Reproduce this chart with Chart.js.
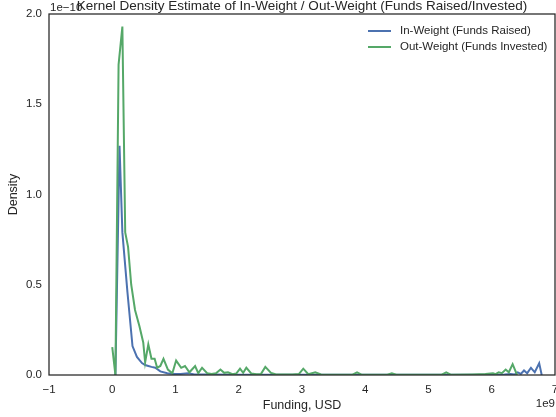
<!DOCTYPE html>
<html>
<head>
<meta charset="utf-8">
<script src="https://cdn.jsdelivr.net/npm/chart.js@4.4.0/dist/chart.umd.min.js"></script>
<style>
	html, body { margin: 0; padding: 0; background: #fff; overflow: hidden; }
	#wrap { width: 580px; height: 417px; }
</style>
</head>
<body>
<div id="wrap"><canvas id="kdeChart"></canvas></div>
<script>
// values in units of 1e9 USD (x) and 1e-10 density (y)
const chartTitle = "Kernel Density Estimate of In-Weight / Out-Weight (Funds Raised/Invested)";
const seriesLabels = ["In-Weight (Funds Raised)", "Out-Weight (Funds Invested)"];
const xTicks = [-1, 0, 1, 2, 3, 4, 5, 6, 7];
const yTicks = [0, 0.5, 1, 1.5, 2];

const inWeightX = [0.05, 0.115, 0.16, 0.24, 0.32, 0.39, 0.47, 0.52, 0.57, 0.62, 0.68, 0.76, 0.87, 0.99, 1.08, 1.20, 1.30, 1.50, 2.00, 2.50, 3.00, 3.50, 4.00, 4.50, 5.00, 5.50, 6.00, 6.20, 6.30, 6.36, 6.41, 6.46, 6.51, 6.56, 6.62, 6.68, 6.75, 6.79];
const inWeightY = [0.0, 1.27, 0.79, 0.46, 0.16, 0.10, 0.066, 0.055, 0.05, 0.045, 0.04, 0.02, 0.01, 0.005, 0.006, 0.01, 0.003, 0.003, 0.002, 0.002, 0.002, 0.002, 0.002, 0.002, 0.002, 0.002, 0.002, 0.003, 0.005, 0.003, 0.015, 0.006, 0.025, 0.01, 0.04, 0.015, 0.065, 0.0];

const outWeightX = [0.00, 0.05, 0.10, 0.16, 0.205, 0.25, 0.30, 0.36, 0.43, 0.49, 0.52, 0.57, 0.62, 0.67, 0.71, 0.76, 0.81, 0.88, 0.95, 1.01, 1.09, 1.15, 1.22, 1.31, 1.36, 1.42, 1.50, 1.57, 1.64, 1.71, 1.77, 1.83, 1.90, 1.96, 2.02, 2.07, 2.12, 2.20, 2.28, 2.35, 2.42, 2.51, 2.58, 2.70, 2.85, 2.95, 3.02, 3.10, 3.21, 3.30, 3.50, 3.80, 3.87, 3.94, 4.20, 4.35, 4.42, 4.49, 4.80, 5.21, 5.28, 5.35, 5.70, 5.90, 6.02, 6.06, 6.11, 6.16, 6.22, 6.27, 6.33, 6.40];
const outWeightY = [0.155, 0.0, 1.72, 1.93, 0.79, 0.71, 0.50, 0.36, 0.27, 0.18, 0.07, 0.17, 0.09, 0.09, 0.04, 0.05, 0.09, 0.03, 0.01, 0.08, 0.04, 0.05, 0.015, 0.05, 0.01, 0.04, 0.01, 0.005, 0.01, 0.03, 0.012, 0.015, 0.004, 0.008, 0.035, 0.012, 0.04, 0.008, 0.004, 0.005, 0.045, 0.012, 0.004, 0.003, 0.003, 0.005, 0.035, 0.004, 0.015, 0.003, 0.002, 0.002, 0.015, 0.002, 0.002, 0.002, 0.01, 0.002, 0.002, 0.002, 0.015, 0.002, 0.003, 0.005, 0.01, 0.005, 0.015, 0.01, 0.03, 0.015, 0.06, 0.0];

const ink = "#262626";
const fontFamily = '"Liberation Sans", Arial, sans-serif';
const lineColors = ["#4c72b0", "#55a868"];

function toPoints(xs, ys) {
	return xs.map((x, i) => ({ x: x, y: ys[i] }));
}

// frame, offset texts, title and the in-axes legend
const decorPlugin = {
	id: "decor",
	afterDraw(chart) {
		const ctx = chart.ctx;
		const a = chart.chartArea;
		ctx.save();
		ctx.strokeStyle = ink;
		ctx.lineWidth = 1.25;
		ctx.strokeRect(a.left, a.top, a.right - a.left, a.bottom - a.top);

		ctx.fillStyle = ink;
		ctx.textBaseline = "middle";
		ctx.font = "11.5px " + fontFamily;
		ctx.textAlign = "left";
		ctx.fillText("1e\u221210", a.left + 1, 8);
		ctx.textAlign = "right";
		ctx.fillText("1e9", a.right, 404);

		ctx.font = "13.5px " + fontFamily;
		ctx.textAlign = "center";
		ctx.fillText(chartTitle, (a.left + a.right) / 2, 6);

		ctx.font = "11.5px " + fontFamily;
		ctx.textAlign = "left";
		chart.data.datasets.forEach((ds, i) => {
			const y = a.top + 17 + i * 16;
			ctx.strokeStyle = ds.borderColor;
			ctx.lineWidth = 2;
			ctx.beginPath();
			ctx.moveTo(a.right - 187, y);
			ctx.lineTo(a.right - 164, y);
			ctx.stroke();
			ctx.fillStyle = ink;
			ctx.fillText(ds.label, a.right - 155, y);
		});
		ctx.restore();
	}
};

const ctx = document.getElementById("kdeChart").getContext("2d");
new Chart(ctx, {
	type: "line",
	data: {
		datasets: [
			{
				label: seriesLabels[0],
				data: toPoints(inWeightX, inWeightY),
				borderColor: lineColors[0],
				borderWidth: 2,
				pointRadius: 0,
				tension: 0,
				fill: false,
				order: 1
			},
			{
				label: seriesLabels[1],
				data: toPoints(outWeightX, outWeightY),
				borderColor: lineColors[1],
				borderWidth: 2,
				pointRadius: 0,
				tension: 0,
				fill: false,
				order: 0
			}
		]
	},
	options: {
		responsive: true,
		maintainAspectRatio: false,
		animation: false,
		layout: { padding: { top: 14, right: 25, left: 0, bottom: 0 } },
		plugins: {
			legend: { display: false },
			tooltip: { enabled: false }
		},
		scales: {
			x: {
				type: "linear",
				min: -1,
				max: 7,
				grid: { display: false, drawTicks: false },
				border: { display: false },
				afterBuildTicks: (scale) => { scale.ticks = xTicks.map(v => ({ value: v })); },
				afterFit: (scale) => { scale.height = 42; },
				ticks: {
					padding: 8,
					color: ink,
					maxRotation: 0,
					font: { family: fontFamily, size: 11.5 },
					callback: (v) => String(v).replace("-", "\u2212")
				},
				title: {
					display: true,
					text: "Funding, USD",
					color: ink,
					font: { family: fontFamily, size: 12.5 },
					padding: { top: 0, bottom: 4 }
				}
			},
			y: {
				min: 0,
				max: 2,
				grid: { display: false, drawTicks: false },
				border: { display: false },
				afterBuildTicks: (scale) => { scale.ticks = yTicks.map(v => ({ value: v })); },
				afterFit: (scale) => { scale.width = 49; },
				ticks: {
					padding: 7,
					color: ink,
					font: { family: fontFamily, size: 11.5 },
					callback: (v) => v.toFixed(1)
				},
				title: {
					display: true,
					text: "Density",
					color: ink,
					font: { family: fontFamily, size: 12.5 },
					padding: { top: 6, bottom: 0 }
				}
			}
		}
	},
	plugins: [decorPlugin]
});
</script>
</body>
</html>
